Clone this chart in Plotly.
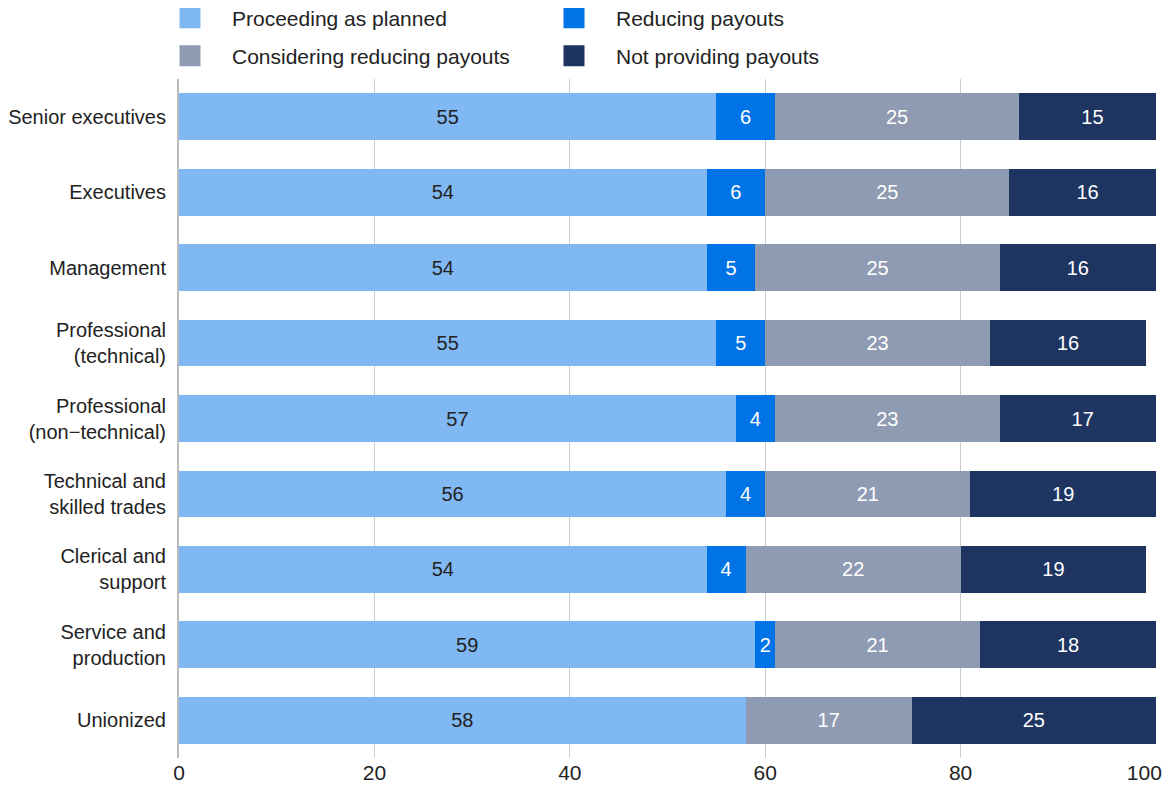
import plotly.graph_objects as go

categories = ["Senior executives", "Executives", "Management",
              "Professional<br>(technical)", "Professional<br>(non−technical)",
              "Technical and<br>skilled trades", "Clerical and<br>support",
              "Service and<br>production", "Unionized"]

proceeding = [55, 54, 54, 55, 57, 56, 54, 59, 58]
reducing = [6, 6, 5, 5, 4, 4, 4, 2, None]
considering = [25, 25, 25, 23, 23, 21, 22, 21, 17]
not_providing = [15, 16, 16, 16, 17, 19, 19, 18, 25]
x_ticks = [0, 20, 40, 60, 80, 100]
x_tick_labels = ["0", "20", "40", "60", "80", "100\u2007\u2007"]

series = [
    ("Proceeding as planned", proceeding, "#80b8f4", "#222222"),
    ("Reducing payouts", reducing, "#0073e6", "#ffffff"),
    ("Considering reducing payouts", considering, "#8f9bb2", "#ffffff"),
    ("Not providing payouts", not_providing, "#1e3461", "#ffffff"),
]
legend_ids = ["legend", "legend2", "legend3", "legend4"]

FONT = "Liberation Sans, Arial, sans-serif"
# page has an 8px body margin, so the figure is 8px smaller than the window
W, H = 1162, 781
ML, MR, MT, MB = 171, 14, 71, 31
PW, PH = W - ML - MR, H - MT - MB

fig = go.Figure()
for name, vals, color, tcolor in series:
    fig.add_trace(go.Bar(
        y=categories, x=vals, name=name, orientation="h",
        marker=dict(color=color, line=dict(width=0)),
        text=[("" if v is None else str(v)) for v in vals],
        textposition="inside", insidetextanchor="middle", textangle=0,
        textfont=dict(color=tcolor, size=20, family=FONT),
        showlegend=False, hoverinfo="skip",
    ))
# legend entries (square swatches)
for (name, vals, color, tcolor), leg in zip(series, legend_ids):
    fig.add_trace(go.Scatter(
        x=[None], y=[None], mode="markers", name=name,
        marker=dict(symbol="square", size=16, color=color,
                    line=dict(width=5, color=color)),
        legend=leg, hoverinfo="skip",
    ))

ITEMW = 74
def leg(x_px, y_px):
    return dict(
        orientation="h", xanchor="left", yanchor="middle",
        x=(x_px - 8 - ML) / PW, y=1 + (MT - (y_px - 8)) / PH,
        itemwidth=ITEMW, itemsizing="trace",
        font=dict(size=21, family=FONT, color="#222222"),
        bgcolor="rgba(0,0,0,0)",
    )

fig.update_layout(
    barmode="stack", bargap=0.38,
    width=W, height=H,
    margin=dict(l=ML, r=MR, t=MT, b=MB, autoexpand=False),
    paper_bgcolor="white", plot_bgcolor="white",
    font=dict(family=FONT, size=21, color="#222222"),
    uniformtext=dict(minsize=18, mode="show"),
    legend=leg(148, 18),
    legend2=leg(532, 18),
    legend3=leg(148, 56),
    legend4=leg(532, 56),
    xaxis=dict(range=[0, 100], tickvals=x_ticks, ticktext=x_tick_labels,
               showgrid=True, gridcolor="#cccccc", gridwidth=1,
               zeroline=False, showline=False, ticks="",
               ticklabeloverflow="allow", automargin=False,
               tickfont=dict(size=21, color="#222222"), fixedrange=True),
    yaxis=dict(autorange="reversed", showgrid=False, zeroline=False,
               showline=True, linecolor="#bbbbbb", linewidth=2,
               ticks="", ticklabelstandoff=7, automargin=False,
               tickfont=dict(size=20, color="#222222"), fixedrange=True),
)

fig.write_html("out.html")
